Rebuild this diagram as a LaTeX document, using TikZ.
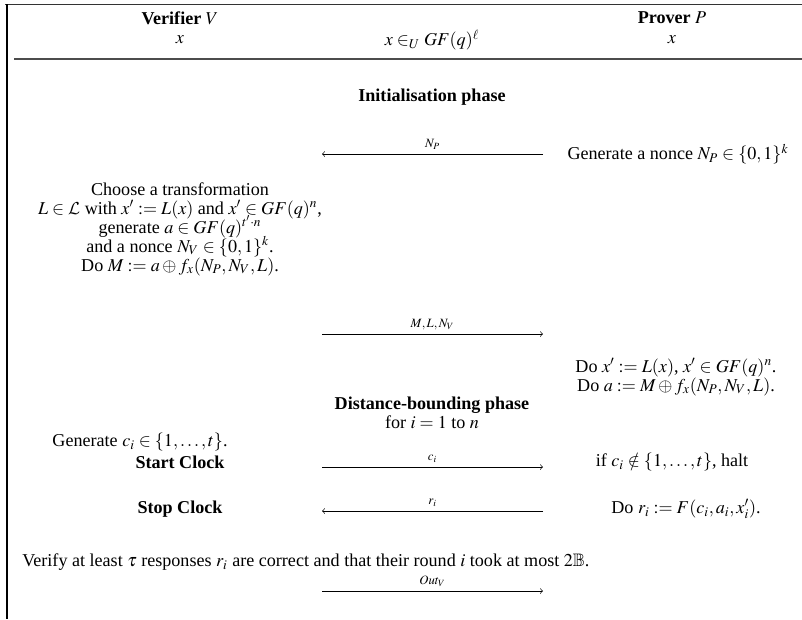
\documentclass[tikz,border=0pt]{standalone}
\usepackage{amssymb}
\usepackage{mathptmx}
\usepackage[no-math]{fontspec}
\setmainfont{Liberation Serif}
\DeclareMathAlphabet{\mathcal}{OMS}{cmsy}{m}{n}
\newcommand{\bodyfont}{\fontsize{11.4}{12}\selectfont}
\begin{document}
\begin{tikzpicture}[x=0.63pt,y=-0.63pt,
  txt/.style={inner sep=0pt,font=\bodyfont},
  ln/.style={inner sep=0pt,font=\bodyfont,anchor=base,text height=7.5pt,text depth=2pt},
  msg/.style={line width=0.4pt,->},
  lbl/.style={inner sep=0pt,font=\fontsize{8}{9}\selectfont,above=2.5pt}]
\useasboundingbox (0,0) rectangle (802,619);

% frame of the protocol box
\draw[line width=0.5pt,black!80] (5,4) -- (802,4);
\draw[line width=0.8pt] (7,4) -- (7,619);
\draw[line width=0.8pt,black!70] (14,59) -- (802,59);

% header
\node[txt] (hv) at (180,18) {\textbf{Verifier} $V$};
\node[txt] (hp) at (672,18) {\textbf{Prover} $P$};
\node[txt] (xv) at (180,40) {$x$};
\node[txt] (xs) at (432,40) {$x \in_U GF(q)^{\ell}$};
\node[txt] (xp) at (672,40) {$x$};

% initialisation phase
\node[txt] (init) at (432,97) {\textbf{Initialisation phase}};
\node[txt] (pnonce) at (678,154) {Generate a nonce $N_P \in \{0,1\}^k$};
\coordinate (a1r) at (543,154);
\coordinate (a1l) at (322,154);
\draw[msg] (a1r) -- node[lbl] (l1) {$N_P$} (a1l);

% verifier's preparation, one node per line
\node[ln] (v1) at (180,195) {Choose a transformation};
\node[ln] (v2) at (180,214) {$L\in\mathcal{L}$ with $x' := L(x)$ and $x' \in GF(q)^n$,};
\node[ln] (v3) at (180,233) {generate $a \in GF(q)^{t'\cdot n}$};
\node[ln] (v4) at (180,252) {and a nonce $N_V \in \{0,1\}^k$.};
\node[ln] (v5) at (180,271) {Do $M := a \oplus f_x(N_P,N_V,L)$.};

\coordinate (a2l) at (322,334);
\coordinate (a2r) at (543,334);
\draw[msg] (a2l) -- node[lbl] (l2) {$M,L,N_V$} (a2r);

% prover's computation
\node[ln] (p1) at (676,372) {Do $x' := L(x)$, $x' \in GF(q)^n$.};
\node[ln] (p2) at (676,391) {Do $a := M \oplus f_x(N_P,N_V,L)$.};

% distance-bounding phase
\node[txt] (dist) at (432,405) {\textbf{Distance-bounding phase}};
\node[txt] (loop) at (432,422) {for $i = 1$ to $n$};
\node[txt] (genc) at (140,442) {Generate $c_i \in \{1,\ldots,t\}$.};
\node[txt] (start) at (180,462) {\textbf{Start Clock}};
\node[txt] (halt) at (672,462) {if $c_i \notin \{1,\ldots,t\}$, halt};
\coordinate (a3l) at (322,467);
\coordinate (a3r) at (543,467);
\draw[msg] (a3l) -- node[lbl] (l3) {$c_i$} (a3r);

\node[txt] (stop) at (180,509) {\textbf{Stop Clock}};
\node[txt] (resp) at (686,509) {Do $r_i := F(c_i,a_i,x'_i)$.};
\coordinate (a4r) at (543,511);
\coordinate (a4l) at (322,511);
\draw[msg] (a4r) -- node[lbl] (l4) {$r_i$} (a4l);

% verification
\node[txt,anchor=west] (ver) at (22,562) {Verify at least $\tau$ responses $r_i$ are correct and that their round $i$ took at most $2\mathbb{B}$.};
\coordinate (a5l) at (322,591);
\coordinate (a5r) at (543,591);
\draw[msg] (a5l) -- node[lbl] (l5) {$Out_V$} (a5r);
\end{tikzpicture}
\end{document}
